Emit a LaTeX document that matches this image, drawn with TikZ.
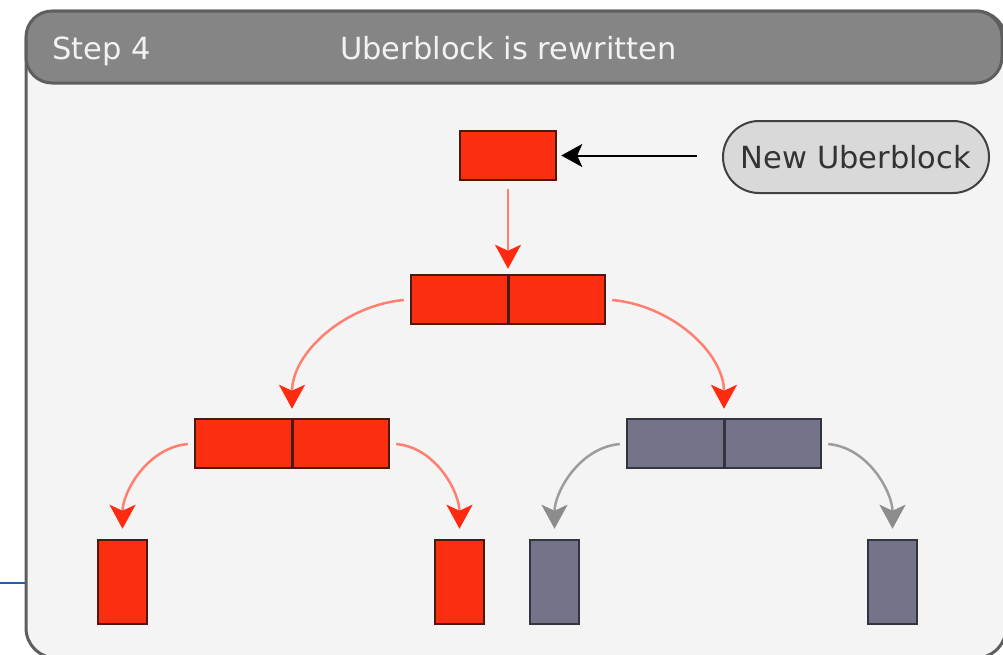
\documentclass[tikz,border=0pt]{standalone}
\usepackage{fontspec}
\setmainfont{DejaVu Sans}
\usetikzlibrary{arrows.meta}
\definecolor{bodybg}{HTML}{F4F4F4}
\definecolor{framec}{HTML}{5E5E5E}
\definecolor{headbg}{HTML}{858585}
\definecolor{headtxt}{HTML}{F2F2F2}
\definecolor{redfill}{HTML}{F92F10}
\definecolor{redborder}{HTML}{4A1A12}
\definecolor{redline}{HTML}{FF8070}
\definecolor{redhead}{HTML}{FF2A10}
\definecolor{grayfill}{HTML}{737389}
\definecolor{grayborder}{HTML}{34343F}
\definecolor{grayline}{HTML}{9C9C9C}
\definecolor{grayhead}{HTML}{8C8C8C}
\definecolor{pillfill}{HTML}{D9D9D9}
\definecolor{bluel}{HTML}{2060A8}
\tikzset{
  blk/.style={draw, line width=2.5pt, minimum height=49pt, inner sep=0pt},
  redblk/.style={blk, fill=redfill, draw=redborder},
  grayblk/.style={blk, fill=grayfill, draw=grayborder},
  pairblk/.style={minimum width=194pt, path picture={\draw[line width=3pt] (path picture bounding box.north) -- (path picture bounding box.south);}},
  leafblk/.style={minimum width=49pt, minimum height=84pt},
  redarrow/.style={draw=redline, line width=2.5pt, -{Stealth[length=24pt,width=26pt,inset=6pt,color=redhead]}},
  grayarrow/.style={draw=grayline, line width=2.5pt, -{Stealth[length=24pt,width=26pt,inset=6pt,color=grayhead]}},
  blackarrow/.style={draw=black, line width=2pt, -{Stealth[length=21pt,width=23pt,inset=5pt]}},
  txt/.style={font=\fontsize{30.5}{34}\selectfont, inner sep=0pt}
}
\begin{document}
\begin{tikzpicture}[x=1pt,y=-1pt]
\useasboundingbox (0,0) rectangle (1003,654);
\begin{scope}
\clip (0,0) rectangle (1003,654);
% frame body
\draw[fill=bodybg, draw=framec, line width=3pt, rounded corners=30pt] (26,11) rectangle (1006,658);
% header
\draw[fill=headbg, draw=framec, line width=3pt, rounded corners=26pt] (26,11) rectangle (1002,83);
\end{scope}
\node[txt, text=headtxt, anchor=base west] (steplbl) at (52,59) {Step 4};
\node[txt, text=headtxt, anchor=base west] (titlelbl) at (340,59) {Uberblock is rewritten};
% blue line
\draw[bluel, line width=1.5pt] (0,583) -- (25,583);
% blocks
\node[redblk, minimum width=96pt] (root) at (508,155.5) {};
\node[draw=black!75, line width=2pt, fill=pillfill, minimum width=266pt, minimum height=72pt, rounded corners=36pt, txt, text=black!80] (newub) at (856,157) {New Uberblock};
\node[redblk, pairblk] (l1) at (508,299.5) {};
\node[redblk, pairblk] (l2a) at (292,443.5) {};
\node[grayblk, pairblk] (l2b) at (724,443.5) {};
\node[redblk, leafblk] (c1) at (122.5,582) {};
\node[redblk, leafblk] (c2) at (459.5,582) {};
\node[grayblk, leafblk] (c3) at (554.5,582) {};
\node[grayblk, leafblk] (c4) at (892.5,582) {};
% connectors
\draw[blackarrow, shorten <=25pt, shorten >=4pt] (newub.west |- root.east) -- (root.east);
\draw[redarrow, shorten <=8pt, shorten >=5pt] (root.south) -- (l1.north);
\draw[redarrow, shorten <=6pt, shorten >=9pt] (l1.west) to[out=185,in=90] (l2a.north);
\draw[redarrow, shorten <=6pt, shorten >=9pt] (l1.east) to[out=-5,in=90] (l2b.north);
\draw[redarrow, shorten <=6pt, shorten >=10pt] (l2a.west) to[out=185,in=90] (c1.north);
\draw[redarrow, shorten <=6pt, shorten >=10pt] (l2a.east) to[out=-5,in=90] (c2.north);
\draw[grayarrow, shorten <=6pt, shorten >=10pt] (l2b.west) to[out=185,in=90] (c3.north);
\draw[grayarrow, shorten <=6pt, shorten >=10pt] (l2b.east) to[out=-5,in=90] (c4.north);
\end{tikzpicture}
\end{document}
